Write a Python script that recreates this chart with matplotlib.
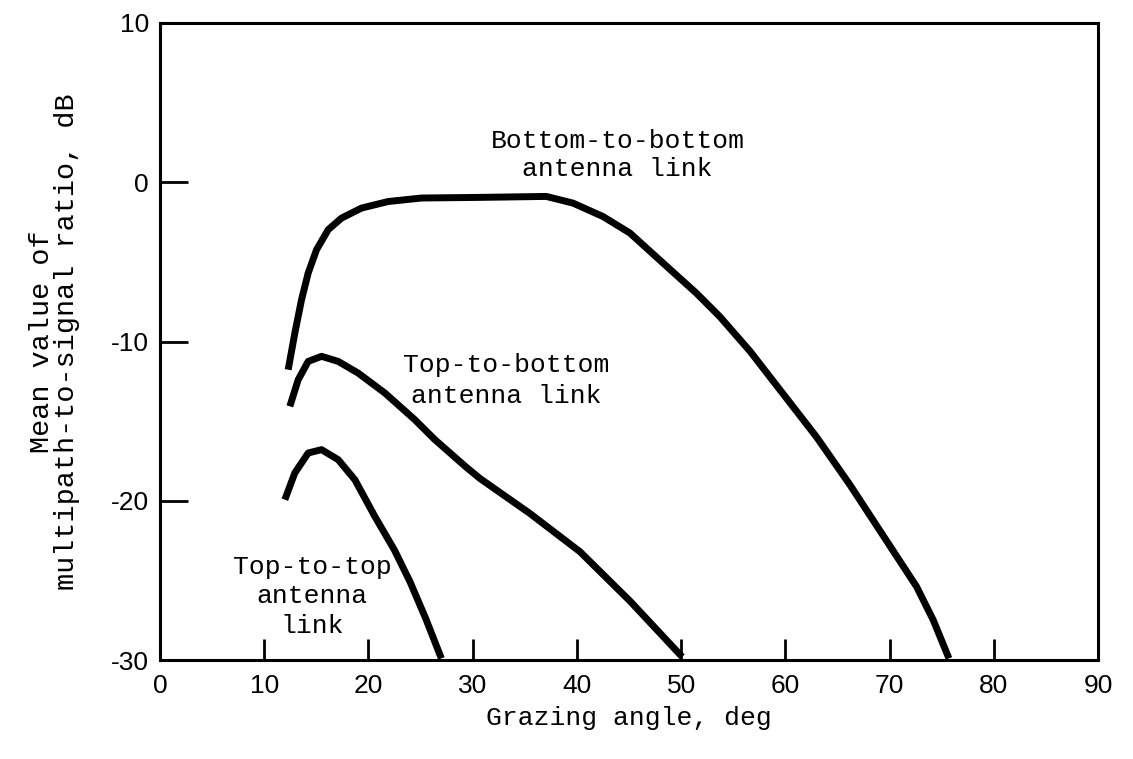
import matplotlib
matplotlib.use("Agg")
import matplotlib.pyplot as plt

# Data
bb_x = [12.30, 12.94, 13.58, 14.22, 15.02, 16.14, 17.42, 19.34, 21.89, 25.09,
        30.68, 37.07, 39.63, 42.50, 45.09, 48.26, 51.46, 53.69, 56.6, 59.8,
        63.0, 66.2, 69.3, 72.6, 74.2, 75.7]
bb_y = [-11.77, -9.47, -7.38, -5.70, -4.24, -2.98, -2.25, -1.62, -1.21, -0.99,
        -0.95, -0.89, -1.31, -2.15, -3.19, -5.07, -6.96, -8.42, -10.6, -13.3,
        -16.0, -19.0, -22.1, -25.4, -27.5, -29.9]

tb_x = [12.46, 13.26, 14.22, 15.50, 17.10, 19.01, 21.57, 24.45, 26.37, 29.4,
        30.7, 35.5, 40.3, 45.1, 50.1]
tb_y = [-14.07, -12.40, -11.25, -10.93, -11.25, -11.98, -13.23, -14.91, -16.16,
        -17.9, -18.6, -20.8, -23.2, -26.3, -29.8]

tt_x = [11.98, 12.94, 14.22, 15.50, 17.10, 18.70, 20.61, 22.5, 24.0, 25.5, 27.0]
tt_y = [-19.93, -18.25, -17.00, -16.79, -17.42, -18.68, -20.98, -23.1, -25.1,
        -27.4, -29.9]

x_ticks = [0, 10, 20, 30, 40, 50, 60, 70, 80, 90]
y_ticks = [-30, -20, -10, 0, 10]

labels = [
    ("Bottom-to-bottom\nantenna link", 43.9, 1.7, 1.2),
    ("Top-to-bottom\nantenna link", 33.2, -12.45, 1.38),
    ("Top-to-top\nantenna\nlink", 14.6, -26.0, 1.3),
]

mono = "Liberation Mono"
sans = "Liberation Sans"

fig = plt.figure(figsize=(11.33, 7.59), dpi=100)
ax = fig.add_axes([0.1412, 0.1304, 0.8279, 0.8393])

for xs, ys in [(bb_x, bb_y), (tb_x, tb_y), (tt_x, tt_y)]:
    ax.plot(xs, ys, color="black", lw=5, solid_capstyle="butt",
            solid_joinstyle="round")

ax.set_xlim(0, 90)
ax.set_ylim(-30, 10)
ax.set_xticks(x_ticks)
ax.set_yticks(y_ticks)
ax.set_xticklabels([str(v) for v in x_ticks], fontfamily=sans, fontsize=19)
ax.set_yticklabels([str(v) for v in y_ticks], fontfamily=sans, fontsize=19)
ax.tick_params(axis="x", direction="in", length=15, width=2, pad=10)
ax.tick_params(axis="y", direction="in", length=20, width=2, pad=8)

# hide tick marks at the corners
for t, v in zip(ax.xaxis.get_major_ticks(), x_ticks):
    if v in (0, 90):
        t.tick1line.set_visible(False)
for t, v in zip(ax.yaxis.get_major_ticks(), y_ticks):
    if v in (-30, 10):
        t.tick1line.set_visible(False)

for s in ax.spines.values():
    s.set_linewidth(2.2)

for txt, x, y, ls in labels:
    ax.text(x, y, txt, ha="center", va="center", fontfamily=mono, fontsize=19,
            linespacing=ls)

ax.set_xlabel("Grazing angle, deg", fontfamily=mono, fontsize=19, labelpad=6)
ax.set_ylabel("Mean value of\nmultipath-to-signal ratio, dB", fontfamily=mono,
              fontsize=20.5, labelpad=22, linespacing=0.95)

fig.savefig("out.png", dpi=100)
